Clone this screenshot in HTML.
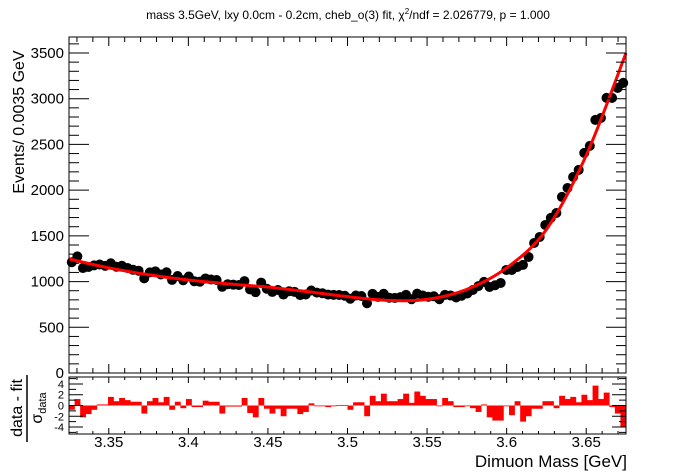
<!DOCTYPE html>
<html><head><meta charset="utf-8"><style>
html,body{margin:0;padding:0;background:#fff;}
svg{display:block;font-family:"Liberation Sans",Arial,sans-serif;}
</style></head><body>
<svg id="c" width="696" height="472" viewBox="0 0 696 472">
<text x="348" y="19" text-anchor="middle" font-size="12">mass 3.5GeV, lxy 0.0cm - 0.2cm, cheb_o(3) fit, χ<tspan dy="-5" font-size="8">2</tspan><tspan dy="5">/ndf = 2.026779, p = 1.000</tspan></text>
<text transform="translate(24,122) rotate(-90)" text-anchor="middle" font-size="16">Events/ 0.0035 GeV</text>
<g>
<text transform="translate(22,408) rotate(-90)" text-anchor="middle" font-size="16">data - fit</text>
<line x1="27" y1="375" x2="27" y2="442" stroke="#000" stroke-width="1.5"/>
<text transform="translate(42,408) rotate(-90)" text-anchor="middle" font-size="16">σ<tspan dy="4" font-size="11">data</tspan></text>
</g>
<text x="627" y="467" text-anchor="end" font-size="17">Dimuon Mass [GeV]</text>
<g id="main"></g><g id="res"></g>
</svg>
<script>
const xMin=3.325, xMax=3.675, nBins=100;
const xTicks=[3.35,3.4,3.45,3.5,3.55,3.6,3.65];
const xTickLabels=["3.35","3.4","3.45","3.5","3.55","3.6","3.65"];
const yTicks=[0,500,1000,1500,2000,2500,3000,3500];
const resTicks=[-4,-2,0,2,4];
const fitKnotX=[3.325,3.35,3.375,3.4,3.425,3.45,3.475,3.5,3.525,3.55,3.575,3.6,3.625,3.65,3.675];
const fitKnotY=[1247,1150,1075,1017,975,940,890,835,795,805,915,1150,1570,2380,3500];
const dataValues=[1212,1275,1148,1160,1177,1187,1172,1200,1162,1173,1149,1129,1119,1035,1100,1112,1078,1102,1018,1061,1014,1055,1003,999,1034,1022,1017,943,971,966,962,1005,914,884,989,922,887,908,858,894,887,852,859,902,879,872,857,855,853,845,812,847,842,763,866,833,867,823,821,830,855,807,868,848,834,839,807,855,848,826,845,870,908,950,996,941,960,985,1127,1127,1160,1182,1269,1422,1488,1619,1696,1750,1926,2024,2144,2221,2407,2484,2768,2790,3009,3009,3118,3173];
const residuals=[-0.8,1.2,-2.2,-1.6,-0.8,0.2,0.2,1.6,0.8,1.4,1.0,0.7,0.7,-1.5,0.8,1.4,0.6,1.6,-0.8,0.7,-0.5,1.2,-0.3,-0.3,0.9,0.7,0.7,-1.5,-0.2,-0.2,-0.2,1.4,-1.4,-2.2,1.4,-0.6,-1.5,-0.6,-2.0,-0.6,-0.6,-1.6,-1.2,0.4,-0.1,-0.1,-0.3,-0.1,0.1,0.1,-0.8,0.6,0.6,-2.0,1.8,0.8,2.2,0.8,0.8,1.2,2.2,0.5,2.6,1.8,1.2,1.2,-0.1,1.4,0.8,-0.3,-0.3,0.0,-0.5,-1.2,0.2,-2.2,-2.8,-2.8,-0.1,-1.8,0.8,-3.0,-2.0,-0.6,-0.6,0.8,0.8,-0.5,1.8,1.2,1.6,0.6,2.0,1.0,3.7,1.2,2.4,-0.3,-1.5,-4.0];

const NS="http://www.w3.org/2000/svg";
const L=69,R=626,T=37,B=373,yMax=3675,RT=377,RB=434,rMax=5.3;
const sx=v=>L+(v-xMin)/(xMax-xMin)*(R-L);
const sy=v=>B-v/yMax*(B-T);
const sr=v=>(RT+RB)/2-v/rMax*((RB-RT)/2);
function mk(tag,attrs,parent){const e=document.createElementNS(NS,tag);for(const k in attrs)e.setAttribute(k,attrs[k]);parent.appendChild(e);return e;}
const main=document.getElementById('main'), res=document.getElementById('res');
const bw=(xMax-xMin)/nBins;
residuals.forEach((r,i)=>{const x0=sx(xMin+i*bw),x1=sx(xMin+(i+1)*bw);const y0=sr(0),y1=sr(r);
 const b=mk('rect',{x:x0,y:Math.min(y0,y1),width:x1-x0+0.3,height:Math.max(Math.abs(y1-y0),0.8),fill:'#ff0000'},res);
 
 });
dataValues.forEach((v,i)=>{const cx=sx(xMin+(i+0.5)*bw),cy=sy(v),e=Math.sqrt(v);
 mk('line',{x1:cx,x2:cx,y1:sy(v+e),y2:sy(v-e),stroke:'#000','stroke-width':1},main);
 const c=mk('circle',{cx:cx,cy:cy,r:5,fill:'#000'},main);
 
 });
const pts=fitKnotX.map((x,i)=>[sx(x),sy(fitKnotY[i])]);
let d='M'+pts[0][0]+','+pts[0][1];
for(let i=0;i<pts.length-1;i++){const p0=pts[Math.max(i-1,0)],p1=pts[i],p2=pts[i+1],p3=pts[Math.min(i+2,pts.length-1)];
 d+=` C${p1[0]+(p2[0]-p0[0])/6},${p1[1]+(p2[1]-p0[1])/6} ${p2[0]-(p3[0]-p1[0])/6},${p2[1]-(p3[1]-p1[1])/6} ${p2[0]},${p2[1]}`;}
const fl=mk('path',{d:d,fill:'none',stroke:'#ff0000','stroke-width':3},main);


const f1=mk('rect',{x:L,y:T,width:R-L,height:B-T,fill:'none',stroke:'#000','stroke-width':1},main);


const f2=mk('rect',{x:L,y:RT,width:R-L,height:RB-RT,fill:'none',stroke:'#000','stroke-width':1},res);


for(let v=3.33;v<3.676;v+=0.01){const x=sx(v);const major=Math.abs(Math.round(v*100)%5)===0;const len=major?9:5;
 mk('line',{x1:x,x2:x,y1:B,y2:B-len,stroke:'#000'},main);mk('line',{x1:x,x2:x,y1:T,y2:T+len,stroke:'#000'},main);
 mk('line',{x1:x,x2:x,y1:RB,y2:RB-(major?6:3),stroke:'#000'},res);mk('line',{x1:x,x2:x,y1:RT,y2:RT+(major?6:3),stroke:'#000'},res);}
xTicks.forEach((v,i)=>{const t=mk('text',{x:sx(v),y:447,'text-anchor':'middle','font-size':15},res);t.textContent=xTickLabels[i];
 
 });
for(let v=0;v<=3600;v+=100){const y=sy(v),major=v%500===0,len=major?20:10;
 mk('line',{x1:L,x2:L+len,y1:y,y2:y,stroke:'#000'},main);mk('line',{x1:R,x2:R-len,y1:y,y2:y,stroke:'#000'},main);}
yTicks.forEach(v=>{const t=mk('text',{x:64,y:sy(v)+5,'text-anchor':'end','font-size':15},main);t.textContent=v;
 
 });
for(let v=-5;v<=5;v+=1){const y=sr(v),major=v%2===0,len=major?14:7;
 mk('line',{x1:L,x2:L+len,y1:y,y2:y,stroke:'#000'},res);mk('line',{x1:R,x2:R-len,y1:y,y2:y,stroke:'#000'},res);}
resTicks.forEach(v=>{const t=mk('text',{x:64,y:sr(v)+4,'text-anchor':'end','font-size':11},res);t.textContent=v;
 
 });
</script>
</body></html>
